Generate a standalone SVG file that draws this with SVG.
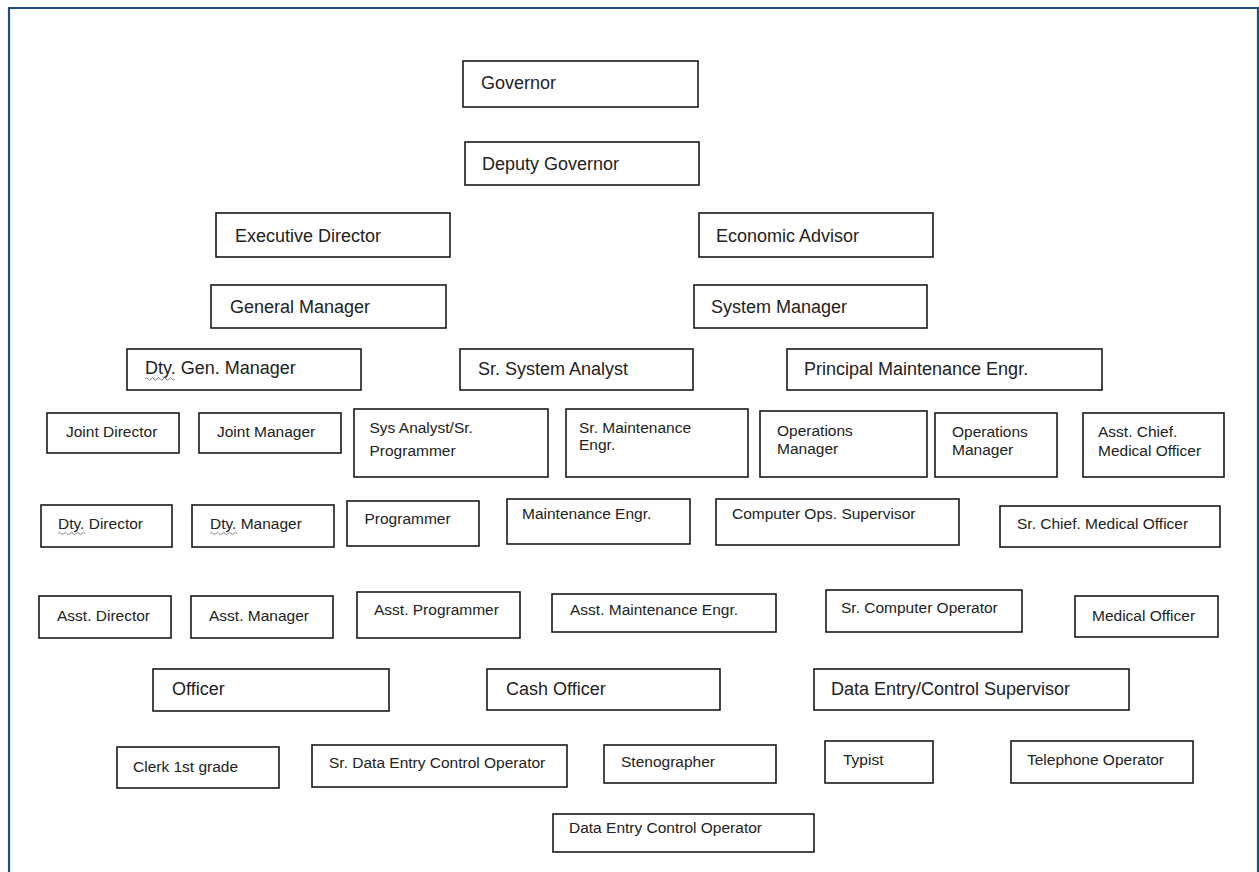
<svg xmlns="http://www.w3.org/2000/svg" width="1259" height="872" viewBox="0 0 1259 872">
<style>
.b{fill:#fff;stroke:#1a1a1a;stroke-width:1.6}
.t{font-family:"Liberation Sans",Arial,sans-serif;fill:#222}
.L{font-size:18px}
.S{font-size:15.5px}
.sq{fill:none;stroke:#808080;stroke-width:1}
</style>
<rect x="0" y="0" width="1259" height="872" fill="#fff"/>
<path d="M9,872 V8 H1258 V872" fill="none" stroke="#1F4E79" stroke-width="2.2"/>
<g id="connectors"/>
<g id="n-governor"><rect class="b" x="463" y="61" width="235" height="46"/><text class="t L" x="481" y="89">Governor</text></g>
<g id="n-deputy-governor"><rect class="b" x="465" y="142" width="234" height="43"/><text class="t L" x="482" y="170">Deputy Governor</text></g>
<g id="n-executive-director"><rect class="b" x="216" y="213" width="234" height="44"/><text class="t L" x="235" y="242">Executive Director</text></g>
<g id="n-economic-advisor"><rect class="b" x="699" y="213" width="234" height="44"/><text class="t L" x="716" y="242">Economic Advisor</text></g>
<g id="n-general-manager"><rect class="b" x="211" y="285" width="235" height="43"/><text class="t L" x="230" y="313">General Manager</text></g>
<g id="n-system-manager"><rect class="b" x="694" y="285" width="233" height="43"/><text class="t L" x="711" y="313">System Manager</text></g>
<g id="n-dty-gen-manager"><rect class="b" x="127" y="349" width="234" height="41"/><text class="t L" x="145" y="374">Dty. Gen. Manager</text><path class="sq" d="M145,379 q1.5,-2.4 3,0 t3,0 t3,0 t3,0 t3,0 t3,0 t3,0 t3,0 t3,0 t3,0"/></g>
<g id="n-sr-system-analyst"><rect class="b" x="460" y="349" width="233" height="41"/><text class="t L" x="478" y="375">Sr. System Analyst</text></g>
<g id="n-principal-maintenance-engr"><rect class="b" x="787" y="349" width="315" height="41"/><text class="t L" x="804" y="375">Principal Maintenance Engr.</text></g>
<g id="n-joint-director"><rect class="b" x="47" y="413" width="132" height="40"/><text class="t S" x="66" y="437">Joint Director</text></g>
<g id="n-joint-manager"><rect class="b" x="199" y="413" width="142" height="40"/><text class="t S" x="217" y="437">Joint Manager</text></g>
<g id="n-sys-analyst"><rect class="b" x="354" y="409" width="194" height="68"/><text class="t S" x="369.5" y="433">Sys Analyst/Sr.</text><text class="t S" x="369.5" y="456">Programmer</text></g>
<g id="n-sr-maintenance-engr"><rect class="b" x="566" y="409" width="182" height="68"/><text class="t S" x="579" y="433">Sr. Maintenance</text><text class="t S" x="579" y="450">Engr.</text></g>
<g id="n-operations-manager-1"><rect class="b" x="760" y="411" width="167" height="66"/><text class="t S" x="777" y="436">Operations</text><text class="t S" x="777" y="454">Manager</text></g>
<g id="n-operations-manager-2"><rect class="b" x="935" y="413" width="122" height="64"/><text class="t S" x="952" y="437">Operations</text><text class="t S" x="952" y="455">Manager</text></g>
<g id="n-asst-chief-medical-officer"><rect class="b" x="1083" y="413" width="141" height="64"/><text class="t S" x="1098" y="437">Asst. Chief.</text><text class="t S" x="1098" y="456">Medical Officer</text></g>
<g id="n-dty-director"><rect class="b" x="41" y="505" width="131" height="42"/><text class="t S" x="58" y="529">Dty. Director</text><path class="sq" d="M58,533.5 q1.5,-2.4 3,0 t3,0 t3,0 t3,0 t3,0 t3,0 t3,0 t3,0 t3,0"/></g>
<g id="n-dty-manager"><rect class="b" x="192" y="505" width="142" height="42"/><text class="t S" x="210" y="529">Dty. Manager</text><path class="sq" d="M210,533.5 q1.5,-2.4 3,0 t3,0 t3,0 t3,0 t3,0 t3,0 t3,0 t3,0 t3,0"/></g>
<g id="n-programmer"><rect class="b" x="347" y="501" width="132" height="45"/><text class="t S" x="364.5" y="524">Programmer</text></g>
<g id="n-maintenance-engr"><rect class="b" x="507" y="499" width="183" height="45"/><text class="t S" x="522" y="519">Maintenance Engr.</text></g>
<g id="n-computer-ops-supervisor"><rect class="b" x="716" y="499" width="243" height="46"/><text class="t S" x="732" y="519">Computer Ops. Supervisor</text></g>
<g id="n-sr-chief-medical-officer"><rect class="b" x="1000" y="506" width="220" height="41"/><text class="t S" x="1017" y="529">Sr. Chief. Medical Officer</text></g>
<g id="n-asst-director"><rect class="b" x="39" y="596" width="132" height="42"/><text class="t S" x="57" y="621">Asst. Director</text></g>
<g id="n-asst-manager"><rect class="b" x="191" y="596" width="142" height="42"/><text class="t S" x="209" y="621">Asst. Manager</text></g>
<g id="n-asst-programmer"><rect class="b" x="357" y="592" width="163" height="46"/><text class="t S" x="374" y="615">Asst. Programmer</text></g>
<g id="n-asst-maintenance-engr"><rect class="b" x="552" y="594" width="224" height="38"/><text class="t S" x="570" y="615">Asst. Maintenance Engr.</text></g>
<g id="n-sr-computer-operator"><rect class="b" x="826" y="590" width="196" height="42"/><text class="t S" x="841" y="613">Sr. Computer Operator</text></g>
<g id="n-medical-officer"><rect class="b" x="1075" y="596" width="143" height="41"/><text class="t S" x="1092" y="621">Medical Officer</text></g>
<g id="n-officer"><rect class="b" x="153" y="669" width="236" height="42"/><text class="t L" x="172" y="695">Officer</text></g>
<g id="n-cash-officer"><rect class="b" x="487" y="669" width="233" height="41"/><text class="t L" x="506" y="695">Cash Officer</text></g>
<g id="n-data-entry-control-supervisor"><rect class="b" x="814" y="669" width="315" height="41"/><text class="t L" x="831" y="695">Data Entry/Control Supervisor</text></g>
<g id="n-clerk-1st-grade"><rect class="b" x="117" y="747" width="162" height="41"/><text class="t S" x="133" y="772">Clerk 1st grade</text></g>
<g id="n-sr-data-entry-control-operator"><rect class="b" x="312" y="745" width="255" height="42"/><text class="t S" x="329" y="768">Sr. Data Entry Control Operator</text></g>
<g id="n-stenographer"><rect class="b" x="604" y="745" width="172" height="38"/><text class="t S" x="621" y="767">Stenographer</text></g>
<g id="n-typist"><rect class="b" x="825" y="741" width="108" height="42"/><text class="t S" x="843" y="765">Typist</text></g>
<g id="n-telephone-operator"><rect class="b" x="1011" y="741" width="182" height="42"/><text class="t S" x="1027" y="765">Telephone Operator</text></g>
<g id="n-data-entry-control-operator"><rect class="b" x="553" y="814" width="261" height="38"/><text class="t S" x="569" y="833">Data Entry Control Operator</text></g>
</svg>
